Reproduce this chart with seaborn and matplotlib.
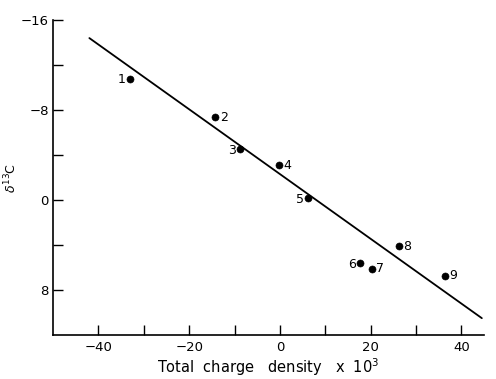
import matplotlib
matplotlib.use("Agg")
import matplotlib.pyplot as plt
import seaborn as sns
import pandas as pd

# Data
labels = ["1", "2", "3", "4", "5", "6", "7", "8", "9"]
charge = [-33.1, -14.2, -8.7, -0.1, 6.2, 17.6, 20.3, 26.2, 36.4]
delta_c = [-10.8, -7.35, -4.5, -3.1, -0.2, 5.6, 6.1, 4.1, 6.75]
label_side = ["left", "right", "left", "right", "left", "left", "right", "right", "right"]

fit_x = [-42.0, 44.5]
fit_y = [-14.4, 10.5]

x_major = [-40, -20, 0, 20, 40]
x_minor = [-30, -10, 10, 30]
y_major = [-16, -8, 0, 8]
y_minor = [-12, -4, 4]

df = pd.DataFrame({"x": charge, "y": delta_c, "label": labels})
fit = pd.DataFrame({"x": fit_x, "y": fit_y})

sns.set_style("ticks")
plt.rcParams['font.family'] = ['DejaVu Sans']
for k in ["text.color", "axes.labelcolor", "xtick.color", "ytick.color", "axes.edgecolor"]:
    plt.rcParams[k] = "black"

fig = plt.figure(figsize=(4.96, 3.79), dpi=100)
ax = fig.add_axes([0.107, 0.116, 0.869, 0.831])

sns.lineplot(data=fit, x="x", y="y", ax=ax, color="black", linewidth=1.3)
sns.scatterplot(data=df, x="x", y="y", ax=ax, color="black", s=26, edgecolor="black", zorder=3)

for xv, yv, lab, side in zip(charge, delta_c, labels, label_side):
    if side == "left":
        ax.annotate(lab, (xv, yv), xytext=(-3, -1), textcoords="offset points",
                    ha="right", va="center", fontsize=9)
    else:
        ax.annotate(lab, (xv, yv), xytext=(3, 0), textcoords="offset points",
                    ha="left", va="center", fontsize=9)

ax.set_xlim(-50, 45)
ax.set_ylim(12, -16)

ax.set_xticks(x_major)
ax.set_xticks(x_minor, minor=True)
ax.set_yticks(y_major)
ax.set_yticks(y_minor, minor=True)

ax.tick_params(axis="both", which="both", direction="in", length=7, width=1, labelsize=9.5)
ax.tick_params(axis="x", pad=4)
ax.tick_params(axis="y", pad=3)

for s in ["top", "right"]:
    ax.spines[s].set_visible(False)
for s in ["left", "bottom"]:
    ax.spines[s].set_linewidth(1.2)

ax.set_xlabel("Total  charge   density   x  $10^3$", fontsize=10.5, labelpad=2)
ax.set_ylabel(r"$\delta^{13}$C", fontsize=9, labelpad=1)

fig.savefig("out.png", dpi=100)
